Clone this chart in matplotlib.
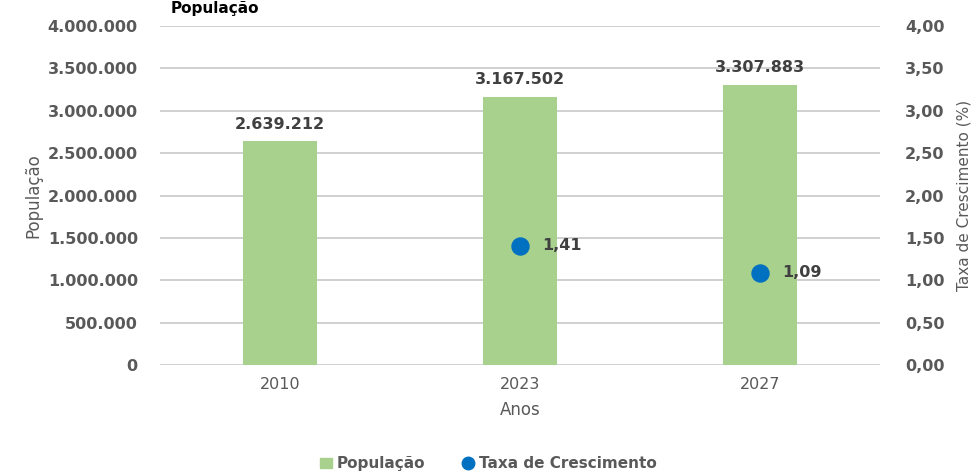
import matplotlib.pyplot as plt
from matplotlib.ticker import FuncFormatter
from matplotlib.lines import Line2D
from matplotlib.patches import Patch

plt.rcParams["font.family"] = ["DejaVu Sans"]

# Data
anos = ["2010", "2023", "2027"]
populacao = [2639212, 3167502, 3307883]
taxa_anos = ["2023", "2027"]
taxa = [1.41, 1.09]

gray = "#595959"
bar_color = "#A9D18E"
dot_color = "#0070C0"

fig = plt.figure(figsize=(9.76, 4.72), dpi=100)
ax = fig.add_axes([0.164, 0.2267, 0.7376, 0.7182])
ax2 = ax.twinx()

x = range(len(anos))
bars = ax.bar(x, populacao, width=0.31, color=bar_color, zorder=2)
ax.set_xlim(-0.5, 2.5)
ax.set_ylim(0, 4000000)
ax.set_yticks(range(0, 4000001, 500000))
ax.yaxis.set_major_formatter(FuncFormatter(lambda v, p: f"{int(v):,}".replace(",", ".")))
ax.grid(axis="y", color="#c8c8c8", linewidth=1.2, zorder=0)
ax.set_axisbelow(True)
ax.set_xticks(list(x))
ax.set_xticklabels(anos, fontsize=11.5, color=gray)

for b, v in zip(bars, populacao):
    ax.annotate(f"{v:,}".replace(",", "."), (b.get_x() + b.get_width() / 2, v),
                xytext=(0, 7), textcoords="offset points", ha="center", va="bottom",
                fontsize=11.5, fontweight="bold", color="#404040")

# growth rate points
tx = [anos.index(a) for a in taxa_anos]
ax2.scatter(tx, taxa, s=150, color=dot_color, zorder=3)
for xi, t in zip(tx, taxa):
    ax2.annotate(f"{t:.2f}".replace(".", ","), (xi, t), xytext=(16, 0),
                 textcoords="offset points", ha="left", va="center",
                 fontsize=11.5, fontweight="bold", color="#404040")
ax2.set_ylim(0, 4)
ax2.set_yticks([i * 0.5 for i in range(9)])
ax2.yaxis.set_major_formatter(FuncFormatter(lambda v, p: f"{v:.2f}".replace(".", ",")))

for a in (ax, ax2):
    for s in a.spines.values():
        s.set_visible(False)
    a.tick_params(length=0, colors=gray)
ax.tick_params(axis="y", pad=16, labelsize=11.5)
ax2.tick_params(axis="y", pad=18, labelsize=11.5)
ax.tick_params(axis="x", pad=9)
for lbl in ax.get_yticklabels() + ax2.get_yticklabels():
    lbl.set_fontweight("bold")

narrow = ["Liberation Sans Narrow", "DejaVu Sans Condensed", "DejaVu Sans"]
ax.set_ylabel("População", color=gray, fontsize=12, family=narrow, labelpad=4)
ax2.set_ylabel("Taxa de Crescimento (%)", color=gray, fontsize=11, family=narrow, labelpad=9)
ax.set_xlabel("Anos", color=gray, fontsize=12, labelpad=6)

# title at the top edge
fig.text(0.175, 0.998, "População", fontsize=11, fontweight="bold", color="black",
         ha="left", va="top")

handles = [Patch(color=bar_color, label="População"),
           Line2D([], [], marker="o", linestyle="", color=dot_color, markersize=9,
                  label="Taxa de Crescimento")]
leg = fig.legend(handles=handles, loc="center", bbox_to_anchor=(0.5, 0.017), ncol=2,
                 frameon=False, handlelength=0.8, handletextpad=0.3, columnspacing=2.4,
                 prop={"weight": "bold", "size": 11})
for t in leg.get_texts():
    t.set_color(gray)

fig.savefig("out.png", dpi=100)
